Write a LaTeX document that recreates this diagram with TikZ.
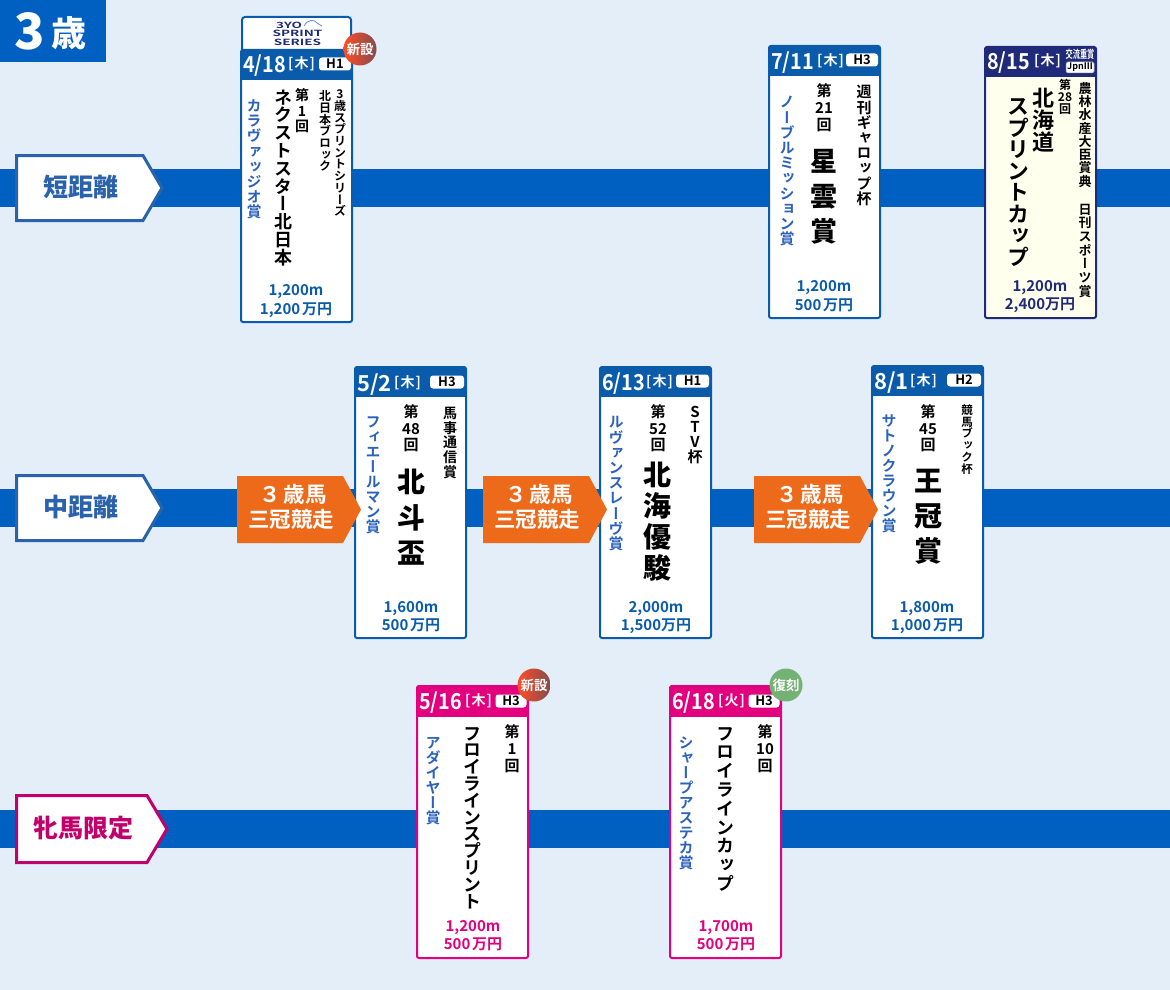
\documentclass[tikz,border=0pt]{standalone}
\usepackage{fontspec}
\setmainfont{Noto Sans CJK JP}[BoldFont=* Bold]
\newfontfamily\tatefont{Noto Sans CJK JP}[BoldFont=* Bold,RawFeature=+vert]
\newfontfamily\heavyfont{Noto Sans CJK JP Black}
\definecolor{pagebg}{HTML}{E4EEF9}
\definecolor{barblue}{HTML}{0060C2}
\definecolor{cardblue}{HTML}{0A5CAB}
\definecolor{prizeblue}{HTML}{0A5CAB}
\definecolor{awardblue}{HTML}{2C62BC}
\definecolor{labelblue}{HTML}{2A62AC}
\definecolor{navy}{HTML}{1F2A78}
\definecolor{pink}{HTML}{E3007F}
\definecolor{labelpink}{HTML}{C2006C}
\definecolor{ivory}{HTML}{FFFFEE}
\definecolor{orangebox}{HTML}{EE6A1B}
\newcommand\fs[1]{\fontsize{#1}{#1}\selectfont}
% Vertical column: each item is centred in a cell of the given pitch.
\newcommand\tatecur{\tatefont\bfseries}
\makeatletter
\newcommand\tate[3]{{\tatecur\fs{#2}\vbox{\offinterlineskip\hsize=#2pt
  \@tfor\tatec:=#3\do{\vbox to #1pt{\vss\hbox to #2pt{\hss\vrule height .88em depth .12em width 0pt\tatec\hss}\vss}}}}}
\makeatother
% \vcol[colour]{name}{x}{y of first cell centre}{pitch}{size}{text}
\newcommand\vcol[7][black]{\pgfmathsetmacro\vtop{#4-#5/2}\node[inner sep=0pt,anchor=north,text=#1] (#2) at (#3,\vtop) {\tate{#5}{#6}{#7}};}
% Same column in the heaviest weight
\newcommand\vcolh[6]{{\renewcommand\tatecur{\heavyfont}\vcol{#1}{#2}{#3}{#4}{#5}{#6}}}
% Dates with four characters are set slightly narrow
\newcommand\narrowdate[1]{\scalebox{.9}[1]{#1}}
\newcommand\yen{\hspace{.12em}万円}
% \card{name}{x}{y}{width}{height}{header height}{colour}{body fill}
\newcommand\card[8]{%
  \node[cardframe,draw=#7,fill=#8,minimum width=#4pt,minimum height=#5pt] (#1) at (#2,#3) {};
  \fill[#7,rounded corners=2pt] (#1.north west) -- (#1.north east) -- ([yshift=-4pt]#1.north east) -- ([yshift=-4pt]#1.north west) -- cycle;
  \fill[#7] ([yshift=-2pt]#1.north west) rectangle ([yshift=-#6pt]#1.north east);
}
\newcommand\orangetag[3]{%
  \fill[orangebox] (#2,476) -- (#2+106,476) -- (#2+124,509.5) -- (#2+106,543) -- (#2,543) -- cycle;
  \node[crownlabel] (#1a) at (#2+56,494) {３\hspace{.12em}歳馬};
  \node[crownlabel] (#1b) at (#2+54,519) {三冠競走};
}
\tikzset{
  cardframe/.style={rectangle,anchor=north west,inner sep=0pt,outer sep=0pt,line width=2pt,rounded corners=2pt},
  datetxt/.style={anchor=west,inner sep=0pt,yshift=-1.5pt,text=white,font=\bfseries\fs{22}},
  daytxt/.style={anchor=west,inner sep=0pt,text=white,font=\bfseries\fs{14}},
  pill/.style={rectangle,fill=white,rounded corners=3pt,inner sep=0pt,minimum width=#1,minimum height=13pt,text=black,font=\bfseries\fs{13}},
  prize/.style={inner sep=0pt,text height=.88em,text depth=.12em,yshift=-2.5pt,font=\bfseries\fs{15}},
  crownlabel/.style={inner sep=0pt,text=white,font=\bfseries\fs{21.5}},
  badge/.style={circle,inner sep=0pt,minimum size=33pt,text=white,font=\bfseries\fs{13.5}},
  newbadge/.style={badge,left color=red!65!orange!85!white,right color=black!70!red!70!white},
  sidelabel/.style={inner sep=0pt,font=\heavyfont\fs{25}},
  logotxt/.style={inner sep=0pt,text=navy,font=\bfseries\fs{10}},
}
\begin{document}
\begin{tikzpicture}[x=1pt,y=-1pt]
\useasboundingbox (0,0) rectangle (1170,990);
\fill[pagebg] (0,0) rectangle (1170,990);

% Title block
\fill[barblue] (0,0) rectangle (106,62);
\node[inner sep=0pt,text=white,font=\heavyfont\fs{50}] (agenum) at (30,31) {3};
\node[inner sep=0pt,text=white,font=\heavyfont\fs{35}] (agekanji) at (69,33) {歳};

% Distance bands
\fill[barblue] (0,169) rectangle (1170,207);
\fill[barblue] (0,489) rectangle (1170,527);
\fill[barblue] (0,810) rectangle (1170,848);

% Category labels
\draw[labelblue,line width=3pt,fill=white] (16.5,155.5) -- (143,155.5) -- (162,188) -- (143,220.5) -- (16.5,220.5) -- cycle;
\node[sidelabel,text=labelblue] (short) at (81,187) {短距離};
\draw[labelblue,line width=3pt,fill=white] (16.5,475.5) -- (143,475.5) -- (162,508) -- (143,540.5) -- (16.5,540.5) -- cycle;
\node[sidelabel,text=labelblue] (middle) at (81,507) {中距離};
\draw[labelpink,line width=3pt,fill=white] (16.5,795.5) -- (147,795.5) -- (167,829) -- (147,862.5) -- (16.5,862.5) -- cycle;
\node[sidelabel,text=labelpink] (fillies) at (84,828) {牝馬限定};

% Series logo above the first card
\draw[cardblue,line width=2pt,fill=white,rounded corners=3pt] (242,17) rectangle (351,55);
\draw[awardblue!70!white,line width=.8pt] (304,26) .. controls (308,19) and (314,19) .. (317,23) -- (322,26);
\node[logotxt] (logoa) at (289,25) {\scalebox{1.35}[.85]{3YO}};
\node[logotxt] (logob) at (297.5,33) {\scalebox{1.35}[.85]{SPRINT}};
\node[logotxt] (logoc) at (297.5,42) {\scalebox{1.35}[.85]{SERIES}};

% Card 4/18
\card{ca}{241}{50}{111}{272}{30}{cardblue}{white}
\node[datetxt] (cadate) at (243,64) {\narrowdate{4/18}};
\node[daytxt] (caday) at (288,64) {[\hspace{.08em}木\hspace{.08em}]};
\node[pill=32pt] (cagrade) at (335,64) {H1};
\vcol[awardblue]{caaward}{254}{105.5}{15.2}{15}{カラヴァッジオ賞}
\vcol{catitle}{283}{97}{17.8}{18}{ネクストスター北日本}
\vcol{canum}{302}{95}{15.5}{14}{第1回}
\vcol{casponsora}{340}{94}{11.7}{12}{3歳スプリントシリーズ}
\vcol{casponsorb}{325}{96}{11.7}{12}{北日本ブロック}
\node[prize,text=prizeblue] (cadist) at (296,289) {1,200m};
\node[prize,text=prizeblue] (caprize) at (296,308) {1,200\yen};

% Card 7/11
\card{cb}{769}{46}{111}{272}{30}{cardblue}{white}
\node[datetxt] (cbdate) at (771,61) {\narrowdate{7/11}};
\node[daytxt] (cbday) at (817,61) {[\hspace{.08em}木\hspace{.08em}]};
\node[pill=32pt] (cbgrade) at (862,60) {H3};
\vcol[awardblue]{cbaward}{787}{102}{15.2}{15}{ノーブルミッション賞}
\vcol{cbnum}{824}{91}{17}{15}{第{21}回}
\vcolh{cbtitle}{824}{161}{35}{27}{星雲賞}
\vcol{cbsponsor}{864}{92}{15.2}{15}{週刊ギャロップ杯}
\node[prize,text=prizeblue] (cbdist) at (824,285) {1,200m};
\node[prize,text=prizeblue] (cbprize) at (824,304) {500\yen};

% Card 8/15
\card{cc}{985}{47}{111}{271}{30}{navy}{ivory}
\node[datetxt] (ccdate) at (987,61) {\narrowdate{8/15}};
\node[daytxt] (ccday) at (1034,61) {[\hspace{.08em}木\hspace{.08em}]};
\node[inner sep=0pt,text=white,font=\bfseries\fs{10}] (ccexchange) at (1080,54) {\scalebox{.72}[1.1]{交流重賞}};
\node[pill=28pt,minimum height=11pt,rounded corners=1.5pt,draw=black!35,line width=.5pt,font=\bfseries\fs{9}] (ccgrade) at (1080,67.5) {JpnⅢ};
\vcol{cctitlea}{1043}{98}{22}{22}{北海道}
\vcol{cctitleb}{1018}{106}{21.5}{22}{スプリントカップ}
\vcol{ccnum}{1065}{85}{12}{12}{第{28}回}
\vcol{ccsponsora}{1085}{88}{13.3}{13}{農林水産大臣賞典}
\vcol{ccsponsorb}{1085}{209}{13.7}{13}{日刊スポーツ賞}
\node[prize,text=navy] (ccdist) at (1040,285) {1,200m};
\node[prize,text=navy] (ccprize) at (1040,303) {2,400万円};

% Card 5/2
\card{cd}{355}{367}{111}{271}{30}{cardblue}{white}
\node[datetxt] (cddate) at (357,383) {5/2};
\node[daytxt] (cdday) at (394,383) {[\hspace{.08em}木\hspace{.08em}]};
\node[pill=34pt] (cdgrade) at (447,382) {H3};
\vcol[awardblue]{cdaward}{373}{422}{15}{15}{フィエールマン賞}
\vcol{cdnum}{411}{412}{16.5}{15}{第{48}回}
\vcolh{cdtitle}{411}{482}{35.5}{28}{北斗盃}
\vcol{cdsponsor}{450}{413}{14.7}{14}{馬事通信賞}
\node[prize,text=prizeblue] (cddist) at (411,606) {1,600m};
\node[prize,text=prizeblue] (cdprize) at (411,624) {500\yen};

% Card 6/13
\card{ce}{600}{367}{111}{271}{30}{cardblue}{white}
\node[datetxt] (cedate) at (602,382) {\narrowdate{6/13}};
\node[daytxt] (ceday) at (646,382) {[\hspace{.08em}木\hspace{.08em}]};
\node[pill=33pt] (cegrade) at (692.5,381) {H1};
\vcol[awardblue]{ceaward}{616}{422}{15.2}{15}{ルヴァンスレーヴ賞}
\vcol{cenum}{658}{412}{16.5}{15}{第{52}回}
\vcolh{cetitle}{657}{475}{31}{28}{北海優駿}
\vcol{cesponsor}{695}{412}{15}{15}{STV杯}
\node[prize,text=prizeblue] (cedist) at (656,606) {2,000m};
\node[prize,text=prizeblue] (ceprize) at (656,624) {1,500万円};

% Card 8/1
\card{cf}{872}{366}{111}{272}{30}{cardblue}{white}
\node[datetxt] (cfdate) at (874,381) {8/1};
\node[daytxt] (cfday) at (910,381) {[\hspace{.08em}木\hspace{.08em}]};
\node[pill=34pt] (cfgrade) at (964,380) {H2};
\vcol[awardblue]{cfaward}{889}{421}{15}{15}{サトノクラウン賞}
\vcol{cfnum}{928}{412}{16.5}{15}{第{45}回}
\vcolh{cftitle}{928}{481}{35}{28}{王冠賞}
\vcol{cfsponsor}{967}{410}{11.7}{11.5}{競馬ブック杯}
\node[prize,text=prizeblue] (cfdist) at (927,606) {1,800m};
\node[prize,text=prizeblue] (cfprize) at (927,624) {1,000\yen};

% Card 5/16
\card{cg}{417}{686}{111}{272}{31}{pink}{white}
\node[datetxt] (cgdate) at (419,701) {\narrowdate{5/16}};
\node[daytxt] (cgday) at (465,701) {[\hspace{.08em}木\hspace{.08em}]};
\node[pill=31pt] (cggrade) at (511,701) {H3};
\vcol[awardblue]{cgaward}{433}{743}{15}{15}{アダイヤー賞}
\vcol{cgtitle}{472}{733}{16.8}{18}{フロイラインスプリント}
\vcol{cgnum}{512}{732}{17}{15}{第1回}
\node[prize,text=pink] (cgdist) at (473,925) {1,200m};
\node[prize,text=pink] (cgprize) at (473,943) {500\yen};

% Card 6/18
\card{ch}{670}{686}{111}{272}{31}{pink}{white}
\node[datetxt] (chdate) at (672,701) {\narrowdate{6/18}};
\node[daytxt] (chday) at (718,701) {[\hspace{.08em}火\hspace{.08em}]};
\node[pill=31pt] (chgrade) at (764,701) {H3};
\vcol[awardblue]{chaward}{686}{743}{15}{15}{シャープアステカ賞}
\vcol{chtitle}{725}{733}{18.8}{18}{フロイラインカップ}
\vcol{chnum}{765}{732}{17}{15}{第{10}回}
\node[prize,text=pink] (chdist) at (726,925) {1,700m};
\node[prize,text=pink] (chprize) at (726,943) {500\yen};

% Triple-crown tags
\orangetag{ta}{237}{}
\orangetag{tb}{483}{}
\orangetag{tc}{754}{}

% Round badges
\node[newbadge] (ba) at (360,49) {新設};
\node[newbadge] (bb) at (534,685) {新設};
\node[badge,fill=green!45!black!55!white] (bc) at (786,685) {復刻};
\end{tikzpicture}
\end{document}
